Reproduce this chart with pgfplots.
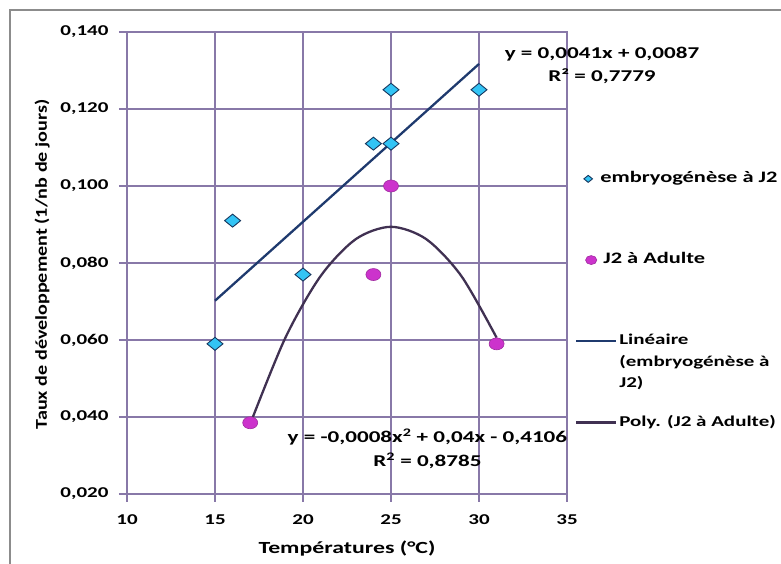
\documentclass[border=0pt]{standalone}
\usepackage{fontspec}
\setmainfont{Carlito}[FakeStretch=1.4]
\newfontfamily\ylabfont{Carlito}[FakeStretch=1.22]
\usepackage{pgfplots}
\pgfplotsset{compat=1.18}

\definecolor{gridc}{HTML}{8878A8}
\definecolor{framec}{HTML}{8C8C8C}
\definecolor{diafill}{HTML}{33C4F5}
\definecolor{diadraw}{HTML}{17375E}
\definecolor{circfill}{HTML}{CC33CC}
\definecolor{circdraw}{HTML}{A02CA0}
\definecolor{linc}{HTML}{1F3A6E}
\definecolor{polyc}{HTML}{403152}

\pgfplotsset{
    legdia/.style={legend image code/.code={\path[draw=none,fill=none] (0pt,-1pt) rectangle (40pt,1pt);
        \draw[##1, mark size=3.5pt] plot coordinates {(12pt,0pt)};}},
    legcirc/.style={legend image code/.code={\path[draw=none,fill=none] (0pt,-1pt) rectangle (40pt,1pt);
        \draw[##1, mark size=4.5pt] plot coordinates {(15pt,0pt)};}},
    legline/.style={legend image code/.code={\draw[##1] (0pt,0pt) -- (40pt,0pt);}},
}

\begin{document}
\begin{tikzpicture}[x=1pt,y=1pt]
\path[use as bounding box] (0,0) rectangle (781,564);
\draw[framec, line width=1.5pt] (10,0) -- (10,554) -- (781,554);
\begin{axis}[
    at={(127pt,70pt)}, anchor=south west,
    scale only axis, width=440pt, height=462pt,
    xmin=10, xmax=35, ymin=0.02, ymax=0.14,
    xtick={10,15,20,25,30,35},
    ytick={0.02,0.04,0.06,0.08,0.10,0.12,0.14},
    xtick pos=left, ytick pos=left,
    tick align=outside, major tick length=8pt,
    grid=major,
    grid style={gridc, line width=1.2pt},
    axis line style={gridc, line width=1.2pt},
    tick style={gridc, line width=1.2pt},
    /pgf/number format/assume math mode=true,
    ticklabel style={font=\fontsize{15}{18}\selectfont\bfseries},
    yticklabel style={xshift=-7pt, /pgf/number format/.cd, fixed, fixed zerofill, precision=3, use comma},
    xticklabel style={yshift=-9pt},
    xlabel={Températures (°C)},
    ylabel={Taux de développement (1/nb de jours)},
    xlabel style={font=\fontsize{17}{20}\selectfont\bfseries,
        at={(axis description cs:0.5,0)}, anchor=center, yshift=-55pt},
    ylabel style={font=\fontsize{16.5}{20}\ylabfont\bfseries,
        at={(axis description cs:-0.193,0.497)}, anchor=center},
    clip=false,
    legend cell align=left,
    legend style={at={(rel axis cs:1.011,0.699)}, anchor=north west,
        draw=none, fill=none, row sep=70pt,
        font=\fontsize{16}{21.5}\selectfont\bfseries,
        nodes={inner sep=2pt, text depth=0pt}},
]

\addplot[only marks, mark=diamond*, mark size=6.5pt,
    mark options={xscale=1.64, fill=diafill, draw=diadraw, line width=0.9pt},
    legdia]
coordinates {
    (15,0.059) (16,0.091) (20,0.077) (24,0.111)
    (25,0.111) (25,0.125) (30,0.125)
};
\addlegendentry{\raisebox{0pt}[0.45em][0pt]{\hspace*{-19pt}embryogénèse à J2}}

\addplot[only marks, mark=*, mark size=6pt,
    mark options={xscale=1.25, fill=circfill, draw=circdraw, line width=0.6pt},
    legcirc]
coordinates {
    (17,0.0385) (24,0.077) (25,0.100) (31,0.059)
};
\addlegendentry{\raisebox{0pt}[0.45em][0pt]{\hspace*{-16pt}J2 à Adulte}}

\addplot[linc, line width=2.3pt, legline]
coordinates {(15,0.0702) (30,0.1317)};
\addlegendentry{\raisebox{0pt}[0.45em][0pt]{\fontsize{15}{21.5}\selectfont\begin{tabular}[t]{@{}l@{}}Linéaire\\(embryogénèse à\\J2)\end{tabular}}}

\addplot[polyc, line width=2.3pt, smooth, legline]
coordinates {
    (17,0.0382) (19,0.0606) (21,0.0766) (23,0.0862)
    (25,0.0894) (27,0.0862) (29,0.0766) (31,0.0606)
};
\addlegendentry{\raisebox{0pt}[0.45em][0pt]{\fontsize{15}{21.5}\selectfont Poly. (J2 à Adulte)}}

\node[align=center, font=\fontsize{16.5}{23}\selectfont\bfseries]
    at (axis cs:36.99,0.1312) {y = 0,0041x + 0,0087\\R² = 0,7779};
\node[align=center, font=\fontsize{16.5}{24}\selectfont\bfseries]
    at (axis cs:27.07,0.0317) {y = -0,0008x\textsuperscript{2} + 0,04x - 0,4106\\R\textsuperscript{2} = 0,8785};
\end{axis}
\end{tikzpicture}
\end{document}
